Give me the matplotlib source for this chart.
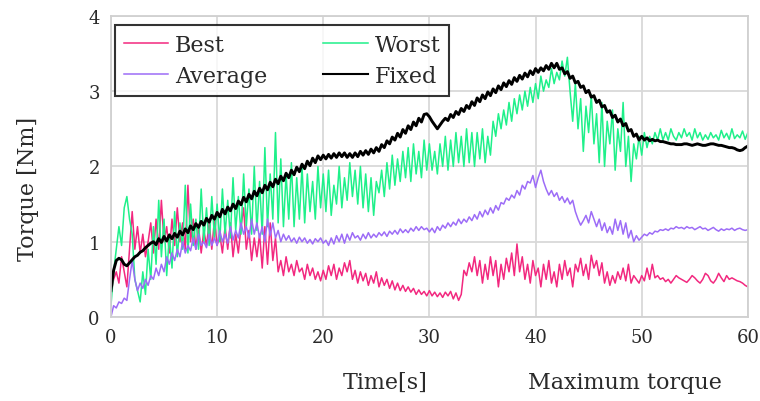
import numpy as np
import matplotlib
matplotlib.use("Agg")
import matplotlib.pyplot as plt

# sampled every 0.25 s, 0 .. 60 s
time = np.arange(241) * 0.25

worst = [
    0.15, 0.6, 0.9, 1.2, 0.95, 1.45, 1.6, 1.3,
    1.1, 0.5, 0.35, 0.2, 0.6, 0.3, 0.9, 0.5,
    1.2, 0.7, 1.55, 0.8, 1.3, 0.55, 1.1, 0.65,
    1.4, 0.8, 1.25, 0.9, 1.75, 0.85, 1.5, 0.95,
    1.3, 0.9, 1.7, 1.0, 1.45, 0.95, 1.6, 1.05,
    1.5, 1.0, 1.7, 1.1, 1.55, 1.05, 1.85, 1.15,
    1.6, 1.1, 1.9, 1.2, 1.7, 1.1, 2.0, 1.15,
    1.8, 1.1, 2.25, 1.2, 1.9, 1.3, 2.45, 1.25,
    2.1, 1.2, 1.9, 1.3, 2.05, 1.2, 1.85, 1.3,
    2.0, 1.25, 1.9, 1.4, 1.8, 1.3, 2.0, 1.45,
    1.9, 1.4, 1.95, 1.35, 1.75, 1.5, 2.0, 1.45,
    1.85, 1.55, 2.05, 1.6, 1.95, 1.5, 2.0, 1.45,
    1.9, 1.4, 1.85, 1.35, 1.8, 1.65, 1.95, 1.6,
    2.05, 1.7, 2.15, 1.75, 2.1, 1.8, 2.2, 1.85,
    2.25, 1.8, 2.3, 1.9, 2.2, 1.85, 2.35, 1.95,
    2.3, 1.95, 2.2, 1.9, 2.3, 2.0, 2.4, 1.95,
    2.35, 2.0, 2.45, 2.05, 2.4, 2.0, 2.5, 2.05,
    2.45, 2.0, 2.45, 2.1, 2.5, 2.05, 2.4, 2.15,
    2.6, 2.4, 2.7, 2.5, 2.75, 2.55, 2.85, 2.6,
    2.9, 2.7, 2.95, 2.75, 3.0, 2.8, 3.05, 2.85,
    3.1, 2.9, 3.2, 3.0, 3.15, 3.05, 3.3, 3.1,
    3.25, 3.15, 3.4, 3.2, 3.45, 3.0, 2.6, 3.1,
    2.5, 2.9, 2.2, 2.8, 2.45, 2.95, 2.3, 2.7,
    2.05, 2.85, 2.0, 2.6, 2.3, 2.75, 1.95, 2.5,
    2.2, 2.85, 2.0, 2.4, 1.8, 2.3, 2.1, 2.4,
    2.15, 2.45, 2.25, 2.4, 2.3, 2.45, 2.35, 2.5,
    2.35, 2.45, 2.35, 2.5, 2.4, 2.35, 2.45, 2.38,
    2.5, 2.4, 2.45, 2.35, 2.5, 2.38, 2.45, 2.35,
    2.42, 2.36, 2.45, 2.38, 2.42, 2.35, 2.48, 2.38,
    2.44, 2.36, 2.5, 2.37, 2.42, 2.38, 2.47, 2.36,
    2.45,
]

best = [
    0.3, 0.5, 0.6, 0.45, 0.8, 0.6, 0.4, 0.9,
    1.4, 0.9, 1.2, 0.85, 1.1, 0.8, 1.0, 1.25,
    0.85, 1.3, 0.9, 1.55, 1.0, 1.2, 0.85, 1.3,
    0.95, 1.45, 1.0, 1.25, 0.9, 1.75, 1.0, 1.3,
    0.9, 1.2, 0.85, 1.15, 0.95, 1.25, 0.9, 1.3,
    0.95, 1.1, 0.85, 1.2, 0.9, 1.25, 0.8, 1.1,
    0.85, 1.2, 1.45, 0.9, 1.15, 0.75, 1.05, 0.8,
    1.1, 0.65, 1.2, 0.7, 1.25, 0.75, 1.05, 0.6,
    0.75, 0.55, 0.8, 0.6, 0.7, 0.55, 0.75, 0.6,
    0.65, 0.5, 0.7, 0.55, 0.65, 0.5, 0.6, 0.48,
    0.62, 0.5, 0.68, 0.55, 0.7, 0.5, 0.65, 0.55,
    0.72, 0.6, 0.75, 0.5, 0.62, 0.45, 0.6, 0.48,
    0.58, 0.42, 0.55, 0.45, 0.6, 0.4, 0.52, 0.42,
    0.5, 0.38, 0.48, 0.36, 0.45, 0.35, 0.42, 0.34,
    0.4, 0.33, 0.38, 0.3, 0.36, 0.3, 0.34, 0.28,
    0.35, 0.28, 0.33, 0.27, 0.32, 0.26, 0.33, 0.28,
    0.34, 0.24, 0.32, 0.22, 0.3, 0.62, 0.55, 0.72,
    0.6, 0.8, 0.55, 0.75, 0.45, 0.7, 0.5, 0.8,
    0.55, 0.75, 0.4, 0.7, 0.5, 0.78, 0.6, 0.85,
    0.55, 0.97, 0.6, 0.8, 0.5, 0.7, 0.45, 0.75,
    0.55, 0.65, 0.4, 0.7, 0.5, 0.75, 0.45, 0.6,
    0.4, 0.7, 0.5, 0.75, 0.55, 0.65, 0.4, 0.7,
    0.6, 0.78, 0.55, 0.7, 0.5, 0.82, 0.65, 0.75,
    0.55, 0.72, 0.45, 0.6, 0.42, 0.55, 0.45, 0.6,
    0.5, 0.65, 0.48, 0.7, 0.45, 0.55, 0.5, 0.45,
    0.55, 0.48, 0.65, 0.5, 0.7, 0.52, 0.55, 0.5,
    0.52, 0.47, 0.5, 0.45, 0.5, 0.55, 0.52, 0.5,
    0.48, 0.46, 0.5, 0.55, 0.52, 0.48, 0.45, 0.5,
    0.58, 0.55, 0.48, 0.45, 0.5, 0.58, 0.52, 0.47,
    0.55, 0.5, 0.52, 0.5, 0.48, 0.47, 0.45, 0.42,
    0.4,
]

average = [
    0.0, 0.15, 0.12, 0.2, 0.18, 0.25, 0.22, 0.5,
    0.75, 0.5, 0.35, 0.45, 0.38, 0.5, 0.42, 0.55,
    0.5, 0.65, 0.55, 0.7, 0.6, 0.8, 0.7, 0.85,
    0.75, 0.9, 0.8, 1.0, 0.85, 0.95, 0.88, 1.05,
    0.9, 1.1, 0.95, 1.0, 0.92, 1.1, 0.95, 1.05,
    0.95, 1.15, 1.0, 1.1, 0.98, 1.2, 1.02, 1.15,
    1.05, 1.25, 1.1, 1.2, 1.05, 1.3, 1.1, 1.25,
    1.05, 1.2, 1.0, 1.3, 1.08, 1.25, 1.05, 1.15,
    1.0, 1.1, 1.02, 1.08, 1.0, 1.05, 0.98, 1.06,
    1.0, 1.05, 0.98, 1.03, 0.97, 1.04, 1.0, 1.05,
    0.98, 1.02, 0.95, 1.05, 0.97, 1.08, 1.0, 1.1,
    0.98, 1.1, 1.02, 1.12, 1.05, 1.08, 1.02, 1.1,
    1.04, 1.12, 1.05, 1.1, 1.06, 1.12, 1.08, 1.13,
    1.07, 1.14, 1.1, 1.15, 1.1, 1.17, 1.12, 1.16,
    1.12, 1.18, 1.14, 1.2, 1.15, 1.2, 1.16, 1.18,
    1.13, 1.18, 1.12, 1.2, 1.15, 1.22, 1.18, 1.25,
    1.2, 1.26, 1.22, 1.3, 1.24, 1.3, 1.26, 1.33,
    1.28, 1.36, 1.3, 1.4, 1.33, 1.42, 1.36, 1.45,
    1.38, 1.48, 1.42, 1.52, 1.5, 1.58, 1.55, 1.62,
    1.58, 1.68, 1.62, 1.75, 1.7, 1.8, 1.78, 1.88,
    1.72, 1.85, 1.95, 1.8, 1.7, 1.62, 1.68, 1.6,
    1.65, 1.55, 1.6, 1.52, 1.58, 1.5, 1.55, 1.4,
    1.3, 1.22, 1.28, 1.35, 1.25, 1.4, 1.3, 1.2,
    1.3, 1.15, 1.25, 1.12, 1.2, 1.1, 1.3, 1.15,
    1.28, 1.1, 1.25, 1.05, 1.15, 1.0, 1.08, 1.02,
    1.06, 1.1, 1.08, 1.12, 1.1, 1.14, 1.13, 1.16,
    1.15, 1.17, 1.15, 1.18, 1.17, 1.2, 1.18, 1.19,
    1.17, 1.2, 1.18, 1.19, 1.16, 1.18, 1.2, 1.17,
    1.18, 1.15, 1.17, 1.19, 1.16, 1.14, 1.17, 1.15,
    1.17, 1.16, 1.18, 1.15, 1.17, 1.18, 1.16, 1.15,
    1.16,
]

fixed = [
    0.35, 0.62, 0.75, 0.78, 0.76, 0.7, 0.68, 0.72,
    0.76, 0.8, 0.82, 0.86, 0.88, 0.92, 0.95, 0.98,
    1.0, 0.96, 1.04, 0.99, 1.07, 1.01, 1.09, 1.04,
    1.11, 1.06, 1.14, 1.09, 1.17, 1.12, 1.21, 1.16,
    1.24, 1.19, 1.27, 1.22, 1.31, 1.26, 1.35, 1.3,
    1.39, 1.33, 1.43, 1.37, 1.46, 1.41, 1.5, 1.44,
    1.54, 1.49, 1.59, 1.53, 1.63, 1.57, 1.67, 1.61,
    1.71, 1.65, 1.75, 1.69, 1.79, 1.73, 1.83, 1.77,
    1.87, 1.81, 1.91, 1.85, 1.95, 1.89, 1.99, 1.93,
    2.03, 1.97, 2.07, 2.01, 2.11, 2.05, 2.14, 2.09,
    2.15, 2.1, 2.16, 2.11, 2.17, 2.12, 2.18, 2.13,
    2.18, 2.12, 2.17, 2.12, 2.18, 2.13, 2.2, 2.15,
    2.21, 2.16, 2.23, 2.18, 2.25, 2.2, 2.29, 2.25,
    2.34, 2.3, 2.39, 2.35, 2.44, 2.39, 2.49, 2.44,
    2.54, 2.49, 2.59, 2.54, 2.64, 2.59, 2.69, 2.7,
    2.66, 2.6, 2.55, 2.5, 2.55, 2.6, 2.64, 2.61,
    2.69, 2.65, 2.73, 2.69, 2.77, 2.73, 2.81, 2.77,
    2.86, 2.81, 2.91, 2.86, 2.95, 2.9, 2.99, 2.94,
    3.03, 2.98, 3.07, 3.02, 3.11, 3.06, 3.14, 3.09,
    3.18, 3.13, 3.21, 3.16, 3.24, 3.19, 3.27, 3.22,
    3.3, 3.25, 3.31, 3.27, 3.34, 3.29, 3.37, 3.31,
    3.37, 3.29, 3.31, 3.23, 3.26, 3.17, 3.2, 3.11,
    3.13, 3.05, 3.07, 2.98, 3.01, 2.92, 2.94, 2.85,
    2.88, 2.79, 2.81, 2.72, 2.74, 2.65, 2.68, 2.59,
    2.63, 2.54, 2.57, 2.47, 2.49, 2.4, 2.43, 2.35,
    2.4, 2.35, 2.38, 2.34, 2.36, 2.34, 2.35, 2.33,
    2.33, 2.32, 2.31, 2.3, 2.3, 2.29, 2.29, 2.29,
    2.3, 2.3, 2.29, 2.28, 2.29, 2.3, 2.29, 2.28,
    2.28, 2.29, 2.3, 2.3, 2.29, 2.28, 2.28, 2.27,
    2.26, 2.25, 2.25, 2.24, 2.22, 2.21, 2.22, 2.25,
    2.27,
]

x_ticks = [0, 10, 20, 30, 40, 50, 60]
y_ticks = [0, 1, 2, 3, 4]

plt.rcParams["font.family"] = "DejaVu Serif"

fig = plt.figure(figsize=(7.6, 4.02), dpi=100)
ax = fig.add_axes([0.146, 0.209, 0.838, 0.749])

l_best, = ax.plot(time, best, color="#f2287f", lw=1.1, label="Best")
l_worst, = ax.plot(time, worst, color="#1ff08a", lw=1.1, label="Worst")
l_avg, = ax.plot(time, average, color="#9d6cf7", lw=1.1, label="Average")
l_fixed, = ax.plot(time, fixed, color="black", lw=2.1, label="Fixed")

ax.set_xlim(0, 60)
ax.set_ylim(0, 4)
ax.set_xticks(x_ticks)
ax.set_yticks(y_ticks)
ax.tick_params(length=0, labelsize=13, pad=8, colors="#2a2a2a")
ax.grid(True, color="#d9d9d9", lw=1.3)
ax.set_axisbelow(True)
for s in ax.spines.values():
    s.set_color("#d0d0d0")
    s.set_linewidth(1.3)

# row-wise order: Best  Worst / Average  Fixed
leg = ax.legend([l_best, l_avg, l_worst, l_fixed],
                ["Best", "Average", "Worst", "Fixed"],
                ncol=2, loc="upper left", bbox_to_anchor=(0.006, 0.97, 0.525, 0.0),
                mode="expand", fontsize=16, frameon=True, fancybox=False,
                borderaxespad=0, handlelength=2.0, handletextpad=0.3,
                columnspacing=1.0, labelspacing=0.4, borderpad=0.4)
leg.get_frame().set_edgecolor("black")
leg.get_frame().set_linewidth(1.5)
leg.legend_handles[3].set_linewidth(1.5)
for t in leg.get_texts():
    t.set_color("#2a2a2a")

fig.text(0.037, 0.53, "Torque [Nm]", rotation=90, ha="center", va="center",
         fontsize=16, color="#2a2a2a")
fig.text(0.507, 0.047, "Time[s]", ha="center", va="center", fontsize=16,
         color="#2a2a2a")
fig.text(0.822, 0.047, "Maximum torque", ha="center", va="center", fontsize=16,
         color="#2a2a2a")

fig.savefig("out.png", dpi=100)
